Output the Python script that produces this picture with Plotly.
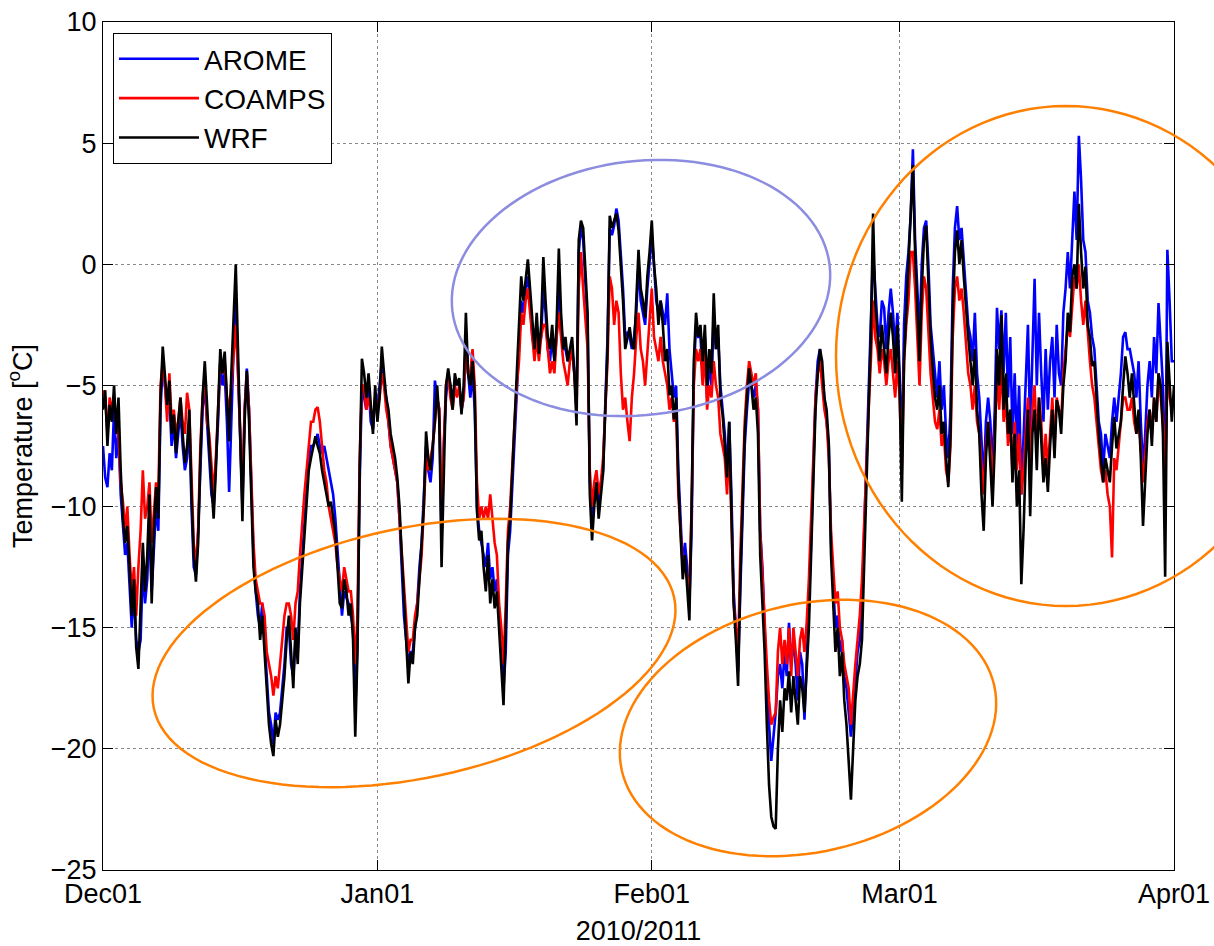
import math
import pandas as pd
import plotly.graph_objects as go

# 6-hourly 2 m temperature (deg C), 1 Dec 2010 00h .. 1 Apr 2011 00h
wrf = [
    # December
    -6.0, -5.2, -7.5, -5.8,   -6.5, -5.0, -7.0, -5.5,   -8.5, -10.5, -11.5, -10.8,
    -12.5, -14.5, -13.0, -15.8,   -16.7, -14.0, -11.5, -13.5,   -12.0, -9.5, -14.0, -11.0,
    -9.2, -10.5, -5.5, -3.4,   -4.5, -5.8, -4.8, -7.0,   -6.2, -7.8, -6.5, -5.5,
    -7.0, -8.2, -7.5, -6.0,   -9.5, -12.0, -13.1, -11.5,   -8.0, -5.5, -4.0, -6.0,
    -7.5, -9.0, -10.5, -8.5,   -6.0, -3.5, -4.5, -3.6,   -5.5, -7.3, -4.5, -2.5,
    0.0, -3.5, -7.0, -10.6,   -6.5, -4.4, -6.5, -9.5,   -12.5, -13.5, -14.0, -15.5,
    -14.5, -16.0, -17.5, -19.0,   -19.8, -20.3, -18.8, -19.5,   -19.0, -18.0, -17.0, -15.5,
    -14.5, -16.0, -17.5, -15.0,   -16.5, -14.0, -12.5, -11.0,   -9.5, -8.5, -8.0, -7.5,
    -7.1, -7.5, -7.8, -8.5,   -9.0, -9.5, -10.0, -9.8,   -10.5, -11.1, -12.5, -14.0,
    -14.2, -13.0, -13.5, -14.5,   -14.0, -15.5, -19.5, -16.0,   -8.5, -3.9, -4.5, -5.5,
    -4.5, -6.0, -7.0, -5.0,
    # January
    -6.5, -5.5, -3.4, -4.5,   -5.5, -6.0, -7.0, -7.5,   -8.0, -8.8, -10.0, -12.0,
    -14.0, -15.5, -17.3, -16.0,   -16.5, -15.0, -14.5, -13.0,   -12.0, -10.0, -6.9, -8.0,
    -8.5, -7.5, -6.5, -5.0,   -6.5, -12.5, -8.0, -5.0,   -4.3, -5.0, -6.0, -4.5,
    -5.0, -4.7, -6.2, -5.0,   -2.0, -4.5, -5.0, -4.0,   -5.5, -10.2, -11.4, -11.0,
    -12.5, -13.5, -12.0, -14.0,   -13.0, -14.2, -13.5, -15.0,   -16.5, -18.2, -15.0, -11.5,
    -10.5, -8.5, -6.5, -4.5,   -3.0, -0.5, -1.5, -0.5,   0.2, -1.0, -2.5, -3.5,
    -2.0, -3.7, -2.5, 0.3,   -1.5, -3.0, -3.5, -2.5,   -4.0, -2.5, 0.65, -2.0,
    -3.5, -3.0, -4.0, -3.5,   -3.0, -4.5, -6.65, 1.0,   1.8, 1.5, -0.5, -2.0,
    -9.5, -11.4, -10.0, -9.0,   -10.5, -9.5, -8.6, -6.0,   -3.5, 2.0, 1.5, 1.8,
    2.1, 1.4, 0.0, -1.5,   -3.5, -3.0, -2.6, -3.3,   -3.5, -1.5, 0.6, -1.0,
    -1.5, -2.2, -0.5, 0.5,
    # February
    1.8, 0.0, -1.0, -2.5,   -1.5, -2.5, -4.0, -3.5,   -5.4, -5.0, -6.4, -5.5,
    -9.0, -11.1, -13.0, -12.0,   -13.5, -14.7, -10.0, -4.0,   -2.0, -3.0, -2.5, -4.0,
    -2.5, -5.0, -3.5, -4.5,   -1.2, -3.5, -2.5, -5.5,   -6.2, -7.5, -8.8, -6.5,
    -10.0, -14.0, -15.5, -17.4,   -13.0, -9.5, -7.0, -5.5,   -4.3, -5.0, -6.0, -5.5,
    -7.0, -12.0, -14.0, -16.0,   -19.0, -21.5, -22.8, -23.2,   -23.3, -20.0, -18.0, -19.3,
    -17.5, -18.0, -16.8, -18.5,   -17.0, -18.0, -19.0, -17.0,   -17.5, -18.5, -16.5, -15.0,
    -12.0, -9.0, -6.0, -4.5,   -3.5, -4.0, -5.5, -6.0,   -7.4, -12.0, -14.0, -16.0,
    -15.0, -17.0, -16.0, -18.0,   -19.0, -20.5, -22.1, -20.0,   -18.0, -17.0, -16.5, -15.5,
    -12.0, -9.0, -6.0, -3.0,   2.1, -1.6, -3.0, -4.0,   -2.5, -3.5, -4.5, -3.0,
    -2.0, -3.0, -4.5, -2.5,
    # March
    -5.0, -9.8, -4.0, -2.0,   0.0, 1.5, 4.1, 0.5,   -2.0, -4.0, -1.0, 1.0,
    1.6, -1.0, -3.0, -4.4,   -5.5, -6.0, -5.0, -7.0,   -6.5, -8.0, -9.2, -7.0,
    -2.0, 0.5, 1.4, 0.0,   1.0, -0.5, -2.0, -3.0,   -4.0, -5.0, -3.5, -6.0,
    -7.0, -9.5, -11.0, -8.0,   -6.5, -8.0, -10.0, -7.5,   -3.5, -5.0, -2.1, -6.0,
    -4.5, -7.0, -6.0, -9.0,   -7.0, -10.0, -8.5, -13.2,   -11.0, -8.0, -6.0, -10.4,
    -7.0, -6.0, -8.5, -5.5,   -7.0, -9.0, -8.0, -9.4,   -7.5, -6.0, -8.0, -5.6,
    -6.0, -7.0, -5.0, -4.0,   -2.0, -2.8, -0.5, 0.0,   -1.0, 2.5, 0.5, -1.0,
    -0.1, -2.5, -3.0, -4.2,   -4.0, -5.6, -7.0, -8.0,   -9.0, -8.0, -8.5, -9.0,
    -7.5, -6.3, -7.6, -7.0,   -6.5, -5.0, -3.8, -4.5,   -5.5, -4.5, -6.0, -7.0,
    -6.0, -8.0, -10.8, -9.0,   -7.0, -6.0, -7.5, -5.5,   -6.5, -4.5, -5.0, -7.0,
    -12.9, -3.2, -5.0, -6.5,
    # April
    -5.0,
]

arome = [
    # December
    -7.5, -8.8, -9.2, -7.8,   -8.5, -6.0, -8.0, -7.0,   -9.5, -11.0, -12.0, -11.5,
    -13.0, -15.0, -13.5, -15.5,   -16.0, -15.5, -12.5, -14.0,   -13.0, -10.5, -13.5, -12.0,
    -10.0, -11.0, -6.0, -4.0,   -5.0, -6.0, -5.5, -7.5,   -6.5, -8.0, -7.0, -6.0,
    -7.5, -8.5, -8.0, -6.5,   -10.0, -12.5, -12.8, -11.0,   -8.5, -6.0, -5.0, -6.5,
    -8.0, -9.5, -10.0, -8.5,   -6.5, -4.0, -5.0, -4.5,   -6.5, -9.4, -6.0, -3.5,
    -1.5, -4.5, -7.5, -10.0,   -6.0, -4.3, -6.0, -9.0,   -12.0, -13.5, -14.5, -15.0,
    -14.0, -15.5, -17.0, -18.5,   -19.0, -19.8, -18.5, -18.8,   -18.5, -17.5, -16.5, -15.0,
    -15.0, -16.5, -17.0, -15.5,   -16.0, -13.5, -12.0, -10.5,   -9.0, -8.0, -7.5, -7.5,
    -7.3, -7.0, -7.5, -7.8,   -7.5, -8.0, -8.5, -9.0,   -9.5, -10.5, -12.0, -13.5,
    -14.5, -13.5, -13.8, -14.0,   -14.5, -15.0, -18.5, -15.5,   -9.0, -5.0, -5.5, -6.0,
    -5.0, -6.5, -6.8, -5.5,
    # January
    -6.0, -5.0, -4.0, -5.0,   -5.5, -6.5, -7.5, -8.0,   -8.5, -9.0, -10.5, -12.5,
    -14.5, -15.5, -16.5, -16.0,   -16.0, -15.0, -14.0, -12.5,   -11.5, -9.5, -7.5, -8.5,
    -9.0, -8.0, -4.8, -5.5,   -6.0, -11.5, -7.5, -5.5,   -4.5, -5.0, -5.5, -5.0,
    -4.8, -5.0, -6.0, -5.5,   -3.0, -4.5, -5.5, -4.5,   -6.0, -10.0, -11.0, -11.5,
    -12.0, -12.5, -11.5, -13.0,   -12.5, -13.5, -13.0, -14.5,   -16.0, -17.5, -16.0, -12.0,
    -11.0, -9.0, -7.5, -5.0,   -3.5, -1.5, -2.0, -1.0,   -0.5, -1.5, -3.0, -3.5,
    -2.5, -3.5, -3.0, -1.0,   -2.0, -3.5, -4.0, -3.0,   -4.0, -3.0, -0.5, -2.5,
    -3.5, -3.5, -4.0, -3.8,   -3.5, -4.5, -5.5, 0.5,   1.6, 1.0, -1.0, -2.5,
    -9.0, -10.5, -9.5, -9.0,   -10.0, -9.0, -8.5, -5.5,   -3.0, 1.5, 1.2, 1.6,
    2.3, 1.8, 0.5, -1.0,   -3.0, -2.8, -3.0, -3.5,   -3.0, -2.0, 0.0, -1.5,
    -2.0, -2.5, -1.0, 0.0,
    # February
    1.2, 0.0, -1.5, -2.0,   -1.5, -2.0, -2.5, -1.2,   -3.5, -4.5, -5.5, -5.0,
    -8.5, -10.5, -12.5, -11.5,   -12.5, -14.0, -11.0, -4.5,   -2.5, -3.0, -3.0, -4.5,
    -3.0, -5.5, -4.0, -5.0,   -2.0, -3.5, -3.0, -5.0,   -6.0, -7.0, -8.5, -6.5,
    -9.5, -13.5, -15.0, -16.8,   -13.5, -10.0, -7.5, -6.0,   -4.8, -5.0, -5.5, -5.0,
    -6.0, -11.0, -12.5, -15.0,   -17.5, -19.0, -20.5, -19.5,   -18.5, -17.0, -16.5, -17.5,
    -16.0, -17.0, -14.8, -16.5,   -15.5, -16.5, -18.0, -16.0,   -16.5, -18.8, -16.0, -14.0,
    -11.5, -8.5, -5.5, -4.0,   -3.5, -4.5, -5.5, -6.5,   -7.5, -11.5, -13.0, -15.0,
    -14.5, -16.0, -15.5, -17.0,   -17.5, -18.5, -19.5, -18.5,   -17.0, -16.0, -15.5, -14.0,
    -11.0, -8.0, -5.5, -3.0,   0.5, -1.0, -2.5, -3.0,   -1.5, -1.8, -3.5, -2.0,
    -1.0, -2.0, -3.5, -2.0,
    # March
    -4.5, -8.0, -2.5, -0.5,   0.5, 2.0, 4.75, 1.0,   -1.0, -3.0, 0.0, 1.5,
    1.8, 0.0, -2.5, -3.5,   -4.5, -5.5, -4.0, -6.0,   -5.0, -7.0, -8.0, -6.0,
    -1.0, 1.5, 2.4, 1.0,   1.5, 0.0, -1.0, -2.5,   -3.0, -4.0, -2.0, -4.5,
    -5.5, -7.5, -9.0, -6.5,   -5.5, -6.5, -8.5, -6.0,   -1.8, -3.5, -1.9, -4.5,
    -2.0, -5.5, -3.0, -7.0,   -4.5, -7.5, -5.0, -9.5,   -7.0, -4.5, -2.5, -7.0,
    -4.0, -0.6, -5.0, -2.0,   -4.5, -6.5, -3.5, -6.0,   -4.0, -3.0, -5.5, -2.5,
    -4.5, -5.0, -2.0, -1.0,   0.5, -1.0, 1.0, 3.0,   1.0, 5.3, 3.5, 1.0,
    0.5, -1.5, -2.0, -3.0,   -3.5, -5.0, -6.5, -7.0,   -8.5, -7.0, -7.5, -8.0,
    -6.5, -5.5, -6.5, -5.5,   -4.5, -3.0, -2.8, -3.5,   -3.5, -4.0, -4.5, -5.5,
    -4.0, -6.5, -8.5, -7.0,   -5.0, -4.0, -5.5, -3.0,   -4.5, -1.6, -3.5, -5.0,
    -10.5, 0.6, -1.5, -4.0,
    # April
    -4.0,
]

coamps = [
    # December
    -5.2, -5.5, -7.0, -5.5,   -6.0, -5.5, -6.5, -7.0,   -9.0, -9.8, -11.0, -10.0,
    -12.0, -13.5, -12.5, -14.5,   -12.5, -11.0, -8.5, -10.5,   -10.0, -9.0, -11.5, -10.0,
    -9.0, -9.5, -5.0, -4.0,   -5.0, -6.5, -4.5, -6.5,   -6.0, -7.0, -6.5, -5.5,
    -6.5, -7.0, -5.3, -6.0,   -9.0, -11.5, -12.5, -11.0,   -7.5, -5.5, -4.5, -6.5,
    -7.0, -8.5, -9.5, -8.0,   -6.0, -4.0, -4.5, -4.0,   -5.5, -6.0, -5.0, -3.5,
    -2.5, -4.5, -7.0, -9.5,   -6.0, -4.5, -6.0, -8.5,   -11.5, -13.0, -13.5, -14.0,
    -14.0, -14.5, -16.0, -16.5,   -17.0, -17.8, -17.0, -17.5,   -16.5, -15.5, -14.5, -14.0,
    -14.0, -14.5, -15.5, -14.0,   -13.5, -12.0, -10.5, -9.5,   -8.5, -7.5, -6.5, -6.5,
    -6.0, -5.9, -6.5, -7.5,   -8.5, -9.0, -10.0, -10.5,   -11.0, -11.5, -12.5, -13.0,
    -13.5, -12.5, -13.0, -13.5,   -13.5, -14.5, -16.5, -14.5,   -8.0, -5.0, -5.0, -6.0,
    -5.5, -6.0, -6.5, -5.5,
    # January
    -6.0, -5.5, -4.5, -5.0,   -6.0, -6.5, -7.5, -8.0,   -8.5, -9.0, -10.5, -12.0,
    -13.5, -15.0, -16.0, -15.5,   -15.5, -14.5, -14.0, -13.0,   -12.0, -10.0, -8.0, -8.5,
    -8.0, -7.5, -6.5, -5.5,   -6.0, -10.5, -7.5, -5.0,   -4.5, -5.5, -6.0, -5.0,
    -5.5, -5.0, -6.0, -5.5,   -3.5, -4.5, -4.5, -3.5,   -5.0, -9.0, -10.5, -10.0,
    -10.5, -10.0, -10.5, -9.5,   -10.5, -11.5, -12.0, -14.0,   -15.0, -16.5, -14.0, -11.0,
    -10.0, -8.0, -6.5, -5.0,   -4.0, -2.0, -2.5, -1.5,   -1.0, -2.0, -3.0, -4.0,
    -3.0, -4.0, -3.0, -2.5,   -2.5, -3.5, -4.5, -4.0,   -4.5, -3.0, -2.0, -3.0,
    -4.0, -4.5, -5.0, -4.0,   -3.5, -4.5, -6.0, -1.0,   0.5, -1.0, -2.5, -3.5,
    -8.5, -10.0, -9.0, -8.5,   -9.5, -9.0, -8.0, -6.0,   -4.0, -0.5, -1.0, -2.5,
    -1.5, -2.0, -4.5, -6.0,   -5.5, -6.5, -7.3, -5.5,   -4.5, -3.0, -2.0, -3.5,
    -4.0, -5.0, -3.5, -2.0,
    # February
    -1.0, -3.0, -3.5, -4.0,   -3.0, -4.0, -4.5, -5.0,   -6.0, -5.5, -6.5, -6.0,
    -9.5, -11.0, -12.5, -12.5,   -13.0, -13.5, -10.0, -5.0,   -3.5, -4.0, -3.5, -5.0,
    -3.5, -6.0, -5.0, -5.5,   -4.0, -5.0, -5.5, -7.0,   -7.5, -8.0, -9.5, -7.5,
    -10.5, -14.0, -15.0, -16.0,   -12.0, -9.0, -6.5, -5.0,   -4.0, -4.5, -5.0, -4.5,
    -6.0, -11.0, -13.0, -14.5,   -16.5, -18.0, -19.0, -18.7,   -18.5, -16.0, -15.0, -16.5,
    -15.5, -16.5, -15.0, -17.0,   -15.0, -16.0, -17.0, -15.5,   -15.0, -16.0, -14.8, -13.0,
    -10.5, -8.0, -5.5, -4.5,   -4.0, -5.0, -6.0, -6.5,   -8.0, -11.0, -12.5, -14.0,
    -13.5, -15.0, -15.5, -16.5,   -17.0, -17.5, -19.0, -17.5,   -16.5, -15.5, -14.5, -13.0,
    -10.5, -8.0, -6.0, -4.0,   -1.5, -3.0, -3.5, -4.5,   -3.5, -4.0, -5.0, -4.0,
    -3.5, -4.5, -5.5, -4.0,
    # March
    -5.5, -8.5, -4.0, -2.5,   -1.5, 0.5, 0.5, -1.0,   -3.0, -5.0, -2.0, -0.5,
    -1.0, -3.0, -4.5, -5.5,   -6.5, -6.8, -6.0, -7.5,   -7.0, -8.5, -9.0, -7.5,
    -3.0, -1.0, -0.5, -1.5,   -1.0, -2.0, -3.5, -4.5,   -5.0, -6.0, -5.0, -6.5,
    -7.0, -8.5, -9.5, -7.5,   -6.5, -7.5, -9.0, -7.0,   -4.5, -6.0, -4.0, -6.5,
    -5.5, -7.5, -6.5, -8.5,   -6.5, -8.5, -7.0, -9.5,   -8.5, -7.0, -5.5, -8.5,
    -6.0, -5.0, -7.5, -5.5,   -6.5, -8.5, -7.0, -8.5,   -7.0, -5.5, -7.5, -5.5,
    -6.0, -6.5, -4.5, -3.5,   -2.5, -3.0, -1.5, -0.5,   -1.0, 0.0, -1.5, -2.5,
    -1.5, -3.0, -4.0, -5.0,   -5.5, -6.5, -7.5, -8.5,   -9.0, -8.5, -9.5, -10.0,
    -12.1, -8.0, -8.5, -7.5,   -6.5, -5.5, -5.5, -6.0,   -6.0, -5.5, -6.5, -7.0,
    -6.5, -7.5, -9.0, -8.0,   -6.5, -6.0, -7.0, -5.5,   -6.5, -4.5, -5.5, -6.5,
    -9.0, -4.0, -5.5, -6.0,
    # April
    -5.5,
]

times = pd.date_range("2010-12-01 00:00", "2011-04-01 00:00", freq="6h")

month_ticks = ["2010-12-01", "2011-01-01", "2011-02-01", "2011-03-01", "2011-04-01"]
month_labels = ["Dec01", "Jan01", "Feb01", "Mar01", "Apr01"]
temp_ticks = [-25, -20, -15, -10, -5, 0, 5, 10]

series = [
    ("AROME", arome, "#0000FF"),
    ("COAMPS", coamps, "#FF0000"),
    ("WRF", wrf, "#000000"),
]

FONT = "Liberation Sans, Arial, Helvetica, sans-serif"
FS = 27
W, H = 1214, 946
ML, MR, MT, MB = 103, 40, 22, 76
PW, PH = W - ML - MR, H - MT - MB

fig = go.Figure()
for name, vals, color in series:
    n = min(len(times), len(vals))
    fig.add_trace(go.Scatter(
        x=times[:n], y=vals[:n], mode="lines", name=name,
        line=dict(color=color, width=2.6),
    ))


def ellipse_path(cx, cy, a, b, tilt_deg, n=120):
    """Closed SVG path of a tilted ellipse given in figure pixels, mapped to paper coords."""
    t = math.radians(tilt_deg)
    pts = []
    for k in range(n + 1):
        p = 2 * math.pi * k / n
        x = cx + a * math.cos(p) * math.cos(t) + b * math.sin(p) * math.sin(t)
        y = cy - a * math.cos(p) * math.sin(t) + b * math.sin(p) * math.cos(t)
        pts.append(((x - ML) / PW, (H - MB - y) / PH))
    return "M " + " L ".join(f"{px:.5f},{py:.5f}" for px, py in pts) + " Z"


ORANGE = "#FF8000"
highlights = [
    (641, 288, 190, 127, 7, "#8C8CE0"),
    (414, 653, 266, 125, 12, ORANGE),
    (808, 728, 191, 124, 13, ORANGE),
    (1066, 356, 230, 250, 0, ORANGE),
]
for cx, cy, a, b, tilt, col in highlights:
    fig.add_shape(type="path", path=ellipse_path(cx, cy, a, b, tilt),
                  xref="paper", yref="paper", layer="above",
                  line=dict(color=col, width=2.5))

axis_common = dict(
    showline=True, linecolor="#000000", linewidth=1, mirror="ticks",
    ticks="inside", ticklen=10, tickcolor="#000000",
    showgrid=True, gridcolor="#8A8A8A", griddash="dot", gridwidth=1,
    zeroline=False, automargin=False,
    tickfont=dict(family=FONT, size=FS, color="#000000"),
)

fig.update_layout(
    width=W, height=H,
    margin=dict(l=ML, r=MR, t=MT, b=MB, autoexpand=False),
    paper_bgcolor="#FFFFFF", plot_bgcolor="#FFFFFF",
    font=dict(family=FONT, size=FS, color="#000000"),
    showlegend=True,
    legend=dict(
        x=0.0093, y=0.987, xanchor="left", yanchor="top",
        bgcolor="#FFFFFF", bordercolor="#000000", borderwidth=1,
        font=dict(family=FONT, size=28, color="#000000"),
        itemwidth=80, tracegroupgap=0,
    ),
    xaxis=dict(
        **axis_common,
        type="date",
        range=[month_ticks[0], month_ticks[-1]],
        tickmode="array", tickvals=month_ticks, ticktext=month_labels,
        title=dict(text="2010/2011", font=dict(family=FONT, size=FS), standoff=22),
    ),
    yaxis=dict(
        **axis_common,
        range=[-25, 10],
        tickmode="array", tickvals=temp_ticks,
        title=dict(text="Temperature [<sup>o</sup>C]", font=dict(family=FONT, size=FS), standoff=10),
    ),
)

fig.write_html("out.html")
